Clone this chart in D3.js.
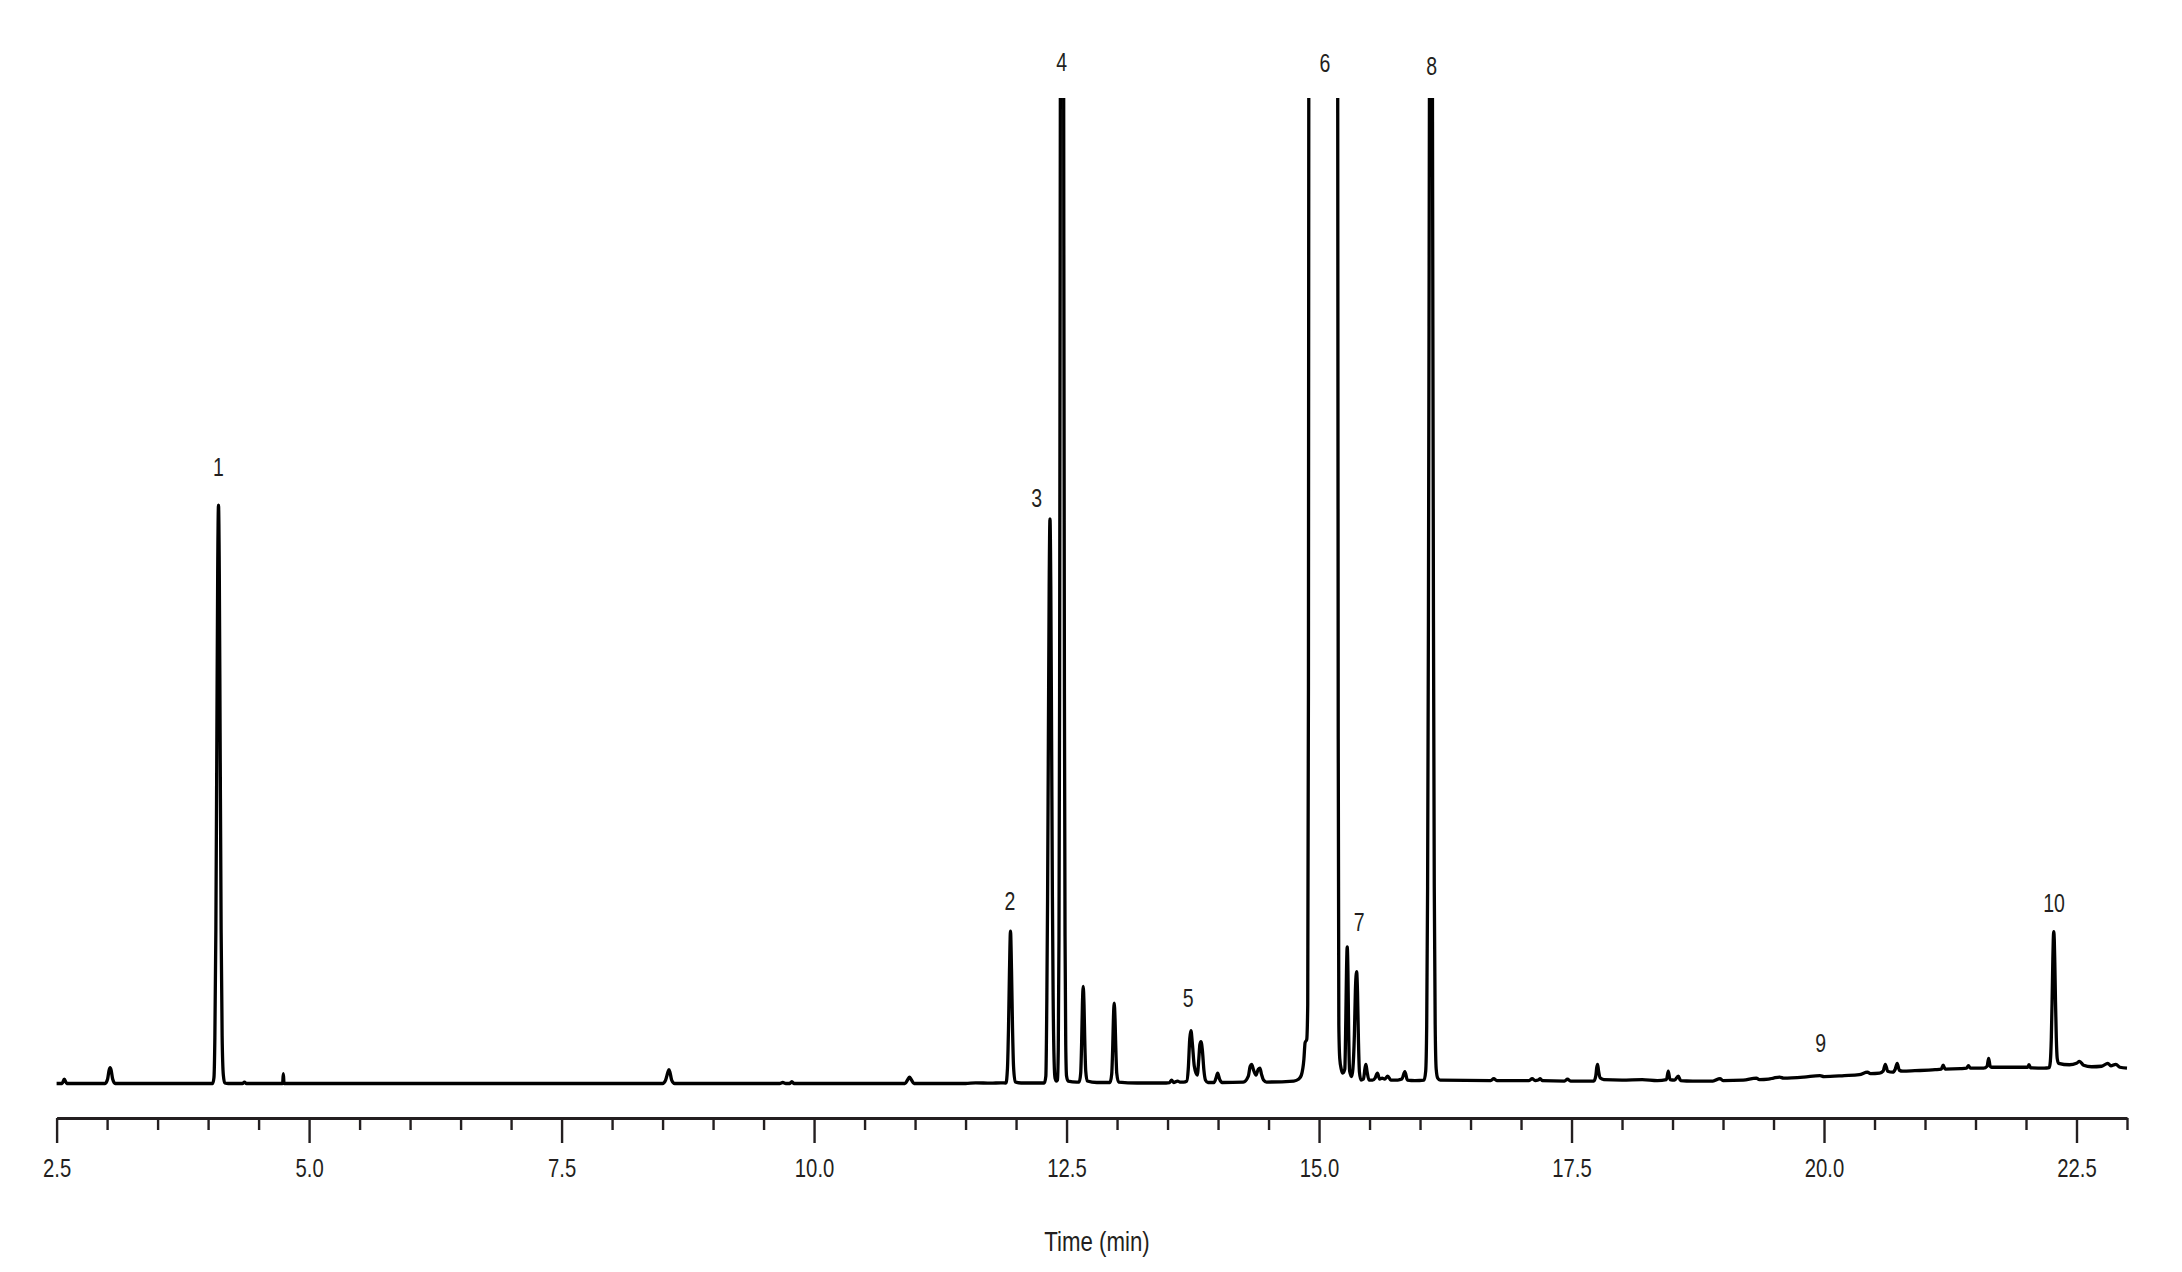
<!DOCTYPE html>
<html><head><meta charset="utf-8">
<script src="https://cdn.jsdelivr.net/npm/d3@7"></script>
<style>html,body{margin:0;padding:0;background:#fff;} svg{display:block}</style>
</head><body>
<svg id="chart" width="2182" height="1272"></svg>
<script>
// ---- Data (time in min, signal in % of plotted full scale) ----
const traceEarly = [
  [2.50,0.05],[2.555,0.05],[2.576,0.5],[2.60,0.05],[2.98,0.05],[3.005,0.5],[3.02,1.4],[3.03,1.65],[3.04,1.4],[3.055,0.5],[3.08,0.05],
  [4.045,0.05],[4.058,0.65],[4.067,4.7],[4.077,15.7],[4.087,35.6],[4.095,51.8],[4.103,58.7],[4.111,51.8],[4.119,35.6],[4.129,15.7],[4.139,4.9],[4.151,0.9],[4.165,0.1],[4.20,0.05],
  [4.34,0.05],[4.36,0.2],[4.38,0.05],[4.738,0.05],[4.745,1.05],[4.752,0.05],
  [8.50,0.05],[8.53,0.4],[8.553,1.2],[8.563,1.45],[8.573,1.2],[8.59,0.4],[8.62,0.05],
  [9.66,0.05],[9.69,0.15],[9.72,0.05],[9.76,0.05],[9.78,0.25],[9.80,0.05],
  [10.90,0.05],[10.928,0.45],[10.945,0.7],[10.962,0.45],[10.99,0.05],
  [11.50,0.05],[11.60,0.12],[11.75,0.08],[11.85,0.12],[11.90,0.1],
  [11.915,1.6],[11.925,5.5],[11.935,11.5],[11.945,15.5],[11.955,11.6],[11.965,5.7],[11.975,1.8],[11.992,0.2],
  [12.05,0.1],[12.20,0.1],[12.28,0.1]
];
const traceMid = [
  [12.295,0.8],[12.305,8.8],[12.312,18.6],[12.320,34.8],[12.328,50.5],[12.336,57.3],[12.344,50.5],[12.352,35],[12.360,19],[12.367,9],[12.377,2.3],[12.386,0.6],[12.40,0.3],
  [12.41,0.4],[12.418,3.5],[12.425,14.6],[12.431,39],[12.437,85],[12.443,147],[12.449,204],[12.455,228],[12.461,204],[12.467,147],[12.473,85],[12.479,39.5],[12.485,15],[12.492,4],[12.50,0.8],[12.515,0.3],
  [12.60,0.2],[12.625,0.2],[12.640,1.1],[12.650,4.5],[12.657,8.0],[12.665,9.9],[12.673,8.0],[12.680,4.6],[12.690,1.3],[12.705,0.3],
  [12.80,0.15],[12.93,0.15],[12.947,1.0],[12.957,3.7],[12.964,6.6],[12.972,8.2],[12.980,6.6],[12.987,3.9],[12.997,1.1],[13.015,0.2],
  [13.20,0.1],[13.45,0.1],[13.52,0.15],[13.54,0.4],[13.56,0.15],[13.60,0.3],[13.62,0.2],[13.66,0.2],
  [13.69,0.3],[13.705,1.5],[13.72,4.6],[13.732,5.4],[13.745,4.2],[13.765,1.8],[13.794,0.9],
  [13.81,2.6],[13.82,4.0],[13.831,4.3],[13.845,3.4],[13.86,1.4],[13.875,0.4],[13.90,0.15],
  [13.96,0.15],[13.98,0.6],[13.996,1.1],[14.015,0.5],[14.04,0.15],
  [14.25,0.2],[14.30,0.8],[14.318,1.8],[14.333,2.0],[14.352,1.4],[14.376,0.9],[14.398,1.5],[14.415,1.6],[14.43,1.0],[14.45,0.4],[14.48,0.2],
  [14.75,0.3],[14.80,0.5],[14.825,0.9],[14.85,2.5],[14.862,4.2],[14.878,4.5],[14.888,8],[14.895,40],[14.90,130],[14.92,320],
  [15.05,500],[15.17,320],[15.183,130],[15.19,35],[15.196,6],[15.205,2.6],[15.22,1.5],[15.235,1.1],
  [15.255,1.5],[15.265,6.5],[15.272,11.5],[15.279,13.9],[15.286,11.5],[15.293,5.5],[15.303,1.3],[15.323,0.75],
  [15.335,1.5],[15.350,5],[15.360,9.5],[15.372,11.4],[15.381,9.3],[15.390,4.5],[15.400,1.2],[15.415,0.4],
  [15.44,0.5],[15.455,1.6],[15.464,2.0],[15.475,1.3],[15.495,0.4],[15.53,0.4],[15.555,0.6],[15.578,1.1],[15.60,0.5],
  [15.625,0.6],[15.65,0.5],[15.68,0.8],[15.71,0.4],[15.78,0.4],[15.82,0.5],[15.85,1.25],[15.875,0.4],[15.95,0.35],
  [16.04,0.4],[16.056,1.3],[16.066,5.9],[16.075,20],[16.083,47],[16.090,83],[16.096,117],[16.102,143],[16.108,153],
  [16.114,143],[16.120,117],[16.126,83],[16.133,47],[16.141,20],[16.150,6],[16.160,1.5],[16.175,0.6],[16.20,0.4]
];
const traceLate = [
  [16.70,0.35],[16.73,0.55],[16.76,0.35],[17.08,0.35],[17.11,0.55],[17.14,0.35],[17.17,0.4],[17.19,0.55],[17.21,0.35],
  [17.43,0.3],[17.46,0.5],[17.49,0.3],[17.72,0.3],[17.74,0.8],[17.75,1.7],[17.758,2.0],[17.768,1.3],[17.785,0.6],[17.82,0.45],
  [18.00,0.4],[18.20,0.45],[18.35,0.35],[18.44,0.45],[18.458,1.3],[18.475,0.45],[18.52,0.4],[18.557,0.8],[18.58,0.35],
  [18.70,0.3],[18.90,0.3],[18.97,0.55],[19.00,0.35],[19.20,0.4],[19.33,0.6],[19.36,0.45],[19.45,0.5],[19.50,0.6],[19.56,0.7],[19.60,0.6],
  [19.80,0.7],[19.96,0.85],[20.00,0.75],[20.20,0.85],[20.35,0.95],[20.43,1.2],[20.46,1.05],[20.55,1.1],
  [20.585,1.3],[20.607,2.0],[20.63,1.3],[20.68,1.2],[20.705,1.5],[20.725,2.1],[20.745,1.4],[20.78,1.3],
  [20.90,1.35],[21.10,1.45],[21.16,1.5],[21.18,1.9],[21.20,1.5],[21.35,1.55],[21.41,1.6],[21.43,1.85],[21.45,1.6],
  [21.58,1.6],[21.615,1.8],[21.63,2.6],[21.645,1.8],[21.66,1.7],[21.80,1.7],[21.95,1.7],[22.015,1.7],[22.03,1.95],[22.045,1.65],
  [22.18,1.6],[22.23,1.65],[22.241,2.3],[22.250,4.4],[22.258,8.2],[22.265,12.3],[22.270,14.6],[22.275,15.45],
  [22.280,14.6],[22.285,12.4],[22.292,8.4],[22.300,4.7],[22.309,2.6],[22.322,2.1],
  [22.43,1.95],[22.50,2.1],[22.53,2.3],[22.57,1.9],[22.65,1.75],[22.75,1.8],[22.81,2.1],[22.84,1.85],[22.89,2.0],[22.93,1.7],[23.00,1.6]
];
const peakLabels = ["1","2","3","4","5","6","7","8","9","10"];
const labelTimes = [4.103, 11.94, 12.204, 12.451, 13.705, 15.058, 15.398, 16.115, 19.966, 22.277];
const labelLevels = [61.66, 17.6, 58.5, 102.7, 7.84, 102.6, 15.55, 102.3, 3.28, 17.47];
const majorTicks = [2.5, 5.0, 7.5, 10.0, 12.5, 15.0, 17.5, 20.0, 22.5];
const xDomain = [2.5, 23.0];
const yDomain = [0, 100];
const xTitle = "Time (min)";

// ---- Drawing ----
const FONT = "'Liberation Sans',Arial,sans-serif";
const SQUEEZE = "scale(0.78,1)";
const INK = "#231f20";
const svg = d3.select("#chart");
svg.append("rect").attr("width",2182).attr("height",1272).attr("fill","#fff");

const x = d3.scaleLinear().domain(xDomain).range([56.6, 2127]);
const y = d3.scaleLinear().domain(yDomain).range([1084, 98]);

svg.append("defs").append("clipPath").attr("id","plotClip")
  .append("rect").attr("x",30).attr("y",y(100)).attr("width",2120).attr("height",1100 - y(100));

const trace = traceEarly.concat(traceMid, traceLate);
const line = d3.line().x(d => x(d[0])).y(d => y(d[1])).curve(d3.curveMonotoneX);

svg.append("path").datum(trace)
  .attr("clip-path","url(#plotClip)")
  .attr("fill","none").attr("stroke","#000").attr("stroke-width",3.3)
  .attr("stroke-linejoin","round").attr("stroke-linecap","butt")
  .attr("d", line);

// peak labels
svg.append("g").selectAll("g").data(peakLabels).join("g")
  .attr("transform", (d,i) => `translate(${x(labelTimes[i])},${y(labelLevels[i])})`)
  .append("text")
  .attr("transform", SQUEEZE)
  .attr("text-anchor","middle")
  .attr("font-family", FONT).attr("font-size", 25).attr("fill", INK)
  .text(d => d);

// x axis
const axisY = 1118;
const minorTicks = d3.range(2.5, 23.001, 0.5).filter(v => !majorTicks.some(m => Math.abs(m - v) < 1e-6));
const minorG = svg.append("g").attr("transform",`translate(0,${axisY})`)
  .call(d3.axisBottom(x).tickValues(minorTicks).tickSize(12).tickFormat(""));
minorG.select(".domain").remove();
minorG.selectAll(".tick line").attr("stroke", INK).attr("stroke-width", 2.4);

const majorG = svg.append("g").attr("transform",`translate(0,${axisY})`)
  .call(d3.axisBottom(x).tickValues(majorTicks).tickFormat(d3.format(".1f")).tickSize(25).tickSizeOuter(0).tickPadding(16));
majorG.select(".domain").attr("stroke", INK).attr("stroke-width", 3);
majorG.selectAll(".tick line").attr("stroke", INK).attr("stroke-width", 2.4);
majorG.selectAll(".tick text").attr("font-family", FONT).attr("font-size", 26).attr("fill", INK)
  .attr("transform", SQUEEZE);

svg.append("g").attr("transform","translate(1097,1251)")
  .append("text").attr("transform", SQUEEZE)
  .attr("text-anchor","middle").attr("font-family", FONT).attr("font-size", 28.5).attr("fill", INK)
  .text(xTitle);
</script>
</body></html>
